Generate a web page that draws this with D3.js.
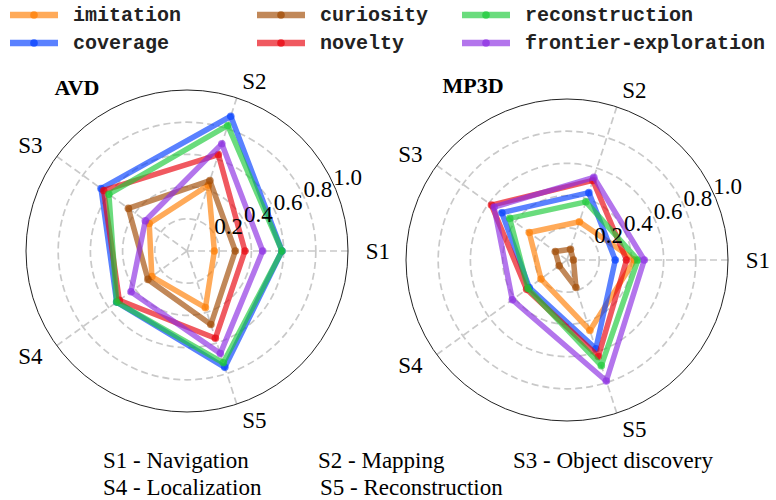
<!DOCTYPE html>
<html>
<head>
<meta charset="utf-8">
<script src="https://cdn.jsdelivr.net/npm/d3@7"></script>
<style>
  body { margin: 0; background: #fff; }
</style>
</head>
<body>
<script>
// data
var seriesNames = ["imitation", "coverage", "curiosity", "novelty", "reconstruction", "frontier-exploration"];
var seriesColors = ["#ff7c00", "#023eff", "#9f4800", "#e8000b", "#1ac938", "#8b2be2"];
var skills = ["S1", "S2", "S3", "S4", "S5"];
var rTicks = [0.2, 0.4, 0.6, 0.8, 1.0];
var skillNotes = ["S1 - Navigation", "S2 - Mapping", "S3 - Object discovery", "S4 - Localization", "S5 - Reconstruction"];

// one row per series, columns S1..S5
var avdValues = [
  [0.17, 0.43, 0.29, 0.27, 0.37],
  [0.59, 0.88, 0.66, 0.54, 0.76],
  [0.30, 0.46, 0.45, 0.30, 0.48],
  [0.36, 0.63, 0.64, 0.52, 0.57],
  [0.59, 0.82, 0.60, 0.54, 0.73],
  [0.47, 0.70, 0.32, 0.43, 0.67]
];
var mp3dValues = [
  [0.42, 0.25, 0.29, 0.20, 0.46],
  [0.30, 0.44, 0.50, 0.29, 0.58],
  [0.04, 0.07, 0.09, 0.06, 0.18],
  [0.37, 0.52, 0.58, 0.31, 0.63],
  [0.44, 0.38, 0.44, 0.30, 0.69],
  [0.48, 0.54, 0.56, 0.42, 0.79]
];

var svg = d3.select("body").append("svg")
  .attr("width", 776)
  .attr("height", 500);

svg.append("rect").attr("width", 776).attr("height", 500).attr("fill", "#fff");

var R = 161;
var r = d3.scaleLinear().domain([0, 1]).range([0, R]);
// math angle (ccw from east) for each skill
var angle = d3.scaleLinear().domain([0, skills.length]).range([0, 2 * Math.PI]);

function px(v, i) { return r(v) * Math.cos(angle(i)); }
function py(v, i) { return -r(v) * Math.sin(angle(i)); }

function drawRadar(cx, cy, title, titleX, titleY, values) {
  var g = svg.append("g").attr("transform", "translate(" + cx + "," + cy + ")");

  // rings
  g.selectAll(".ring")
    .data(rTicks.slice(0, -1))
    .enter()
    .append("circle")
    .attr("r", function (d) { return r(d); })
    .attr("fill", "none")
    .attr("stroke", "#c9c9c9")
    .attr("stroke-width", 1.7)
    .attr("stroke-dasharray", "7,4");

  // spokes
  g.selectAll(".spoke")
    .data(skills)
    .enter()
    .append("line")
    .attr("x1", 0).attr("y1", 0)
    .attr("x2", function (d, i) { return px(1, i); })
    .attr("y2", function (d, i) { return py(1, i); })
    .attr("stroke", "#c9c9c9")
    .attr("stroke-width", 1.7)
    .attr("stroke-dasharray", "7,4");

  // outer spine
  g.append("circle")
    .attr("r", r(1))
    .attr("fill", "none")
    .attr("stroke", "#222")
    .attr("stroke-width", 1);

  // series polygons
  var line = d3.lineRadial()
    .angle(function (d, i) { return Math.PI / 2 - angle(i); })
    .radius(function (d) { return r(d); })
    .curve(d3.curveLinearClosed);

  values.forEach(function (row, s) {
    g.append("path")
      .attr("d", line(row))
      .attr("fill", "none")
      .attr("stroke", seriesColors[s])
      .attr("stroke-width", 5.5)
      .attr("stroke-linejoin", "round")
      .attr("stroke-opacity", 0.65);
    g.selectAll(".pt" + s)
      .data(row)
      .enter()
      .append("circle")
      .attr("cx", function (d, i) { return px(d, i); })
      .attr("cy", function (d, i) { return py(d, i); })
      .attr("r", 3.8)
      .attr("fill", seriesColors[s])
      .attr("fill-opacity", 0.65);
  });

  // r tick labels along 22.5 deg, on top of the lines
  var la = 22.5 * Math.PI / 180;
  g.selectAll(".rtick")
    .data(rTicks)
    .enter()
    .append("text")
    .attr("x", function (d) { return r(d) * Math.cos(la) + 12; })
    .attr("y", function (d) { return -r(d) * Math.sin(la) - 12; })
    .attr("text-anchor", "middle")
    .attr("dominant-baseline", "central")
    .attr("font-family", "Liberation Serif, serif")
    .attr("font-size", 23)
    .attr("fill", "#000")
    .text(function (d) { return d.toFixed(1); });

  // skill labels, anchored at their inner side
  g.selectAll(".skill")
    .data(skills)
    .enter()
    .append("text")
    .attr("x", function (d, i) { return 1.11 * R * Math.cos(angle(i)); })
    .attr("y", function (d, i) { return -1.11 * R * Math.sin(angle(i)); })
    .attr("text-anchor", function (d, i) { return Math.cos(angle(i)) > 0 ? "start" : "end"; })
    .attr("dominant-baseline", "central")
    .attr("font-family", "Liberation Serif, serif")
    .attr("font-size", 23)
    .text(function (d) { return d; });

  svg.append("text")
    .attr("x", titleX)
    .attr("y", titleY)
    .attr("text-anchor", "middle")
    .attr("dominant-baseline", "central")
    .attr("font-family", "Liberation Serif, serif")
    .attr("font-weight", "bold")
    .attr("font-size", 22)
    .text(title);
}

drawRadar(187, 251, "AVD", 77, 87, avdValues);
drawRadar(567, 260, "MP3D", 473, 85, mp3dValues);

// legend, 3 columns filled top to bottom
var legendX = [10, 257, 462];
var legendY = [15, 43];
var legend = svg.selectAll(".leg")
  .data(seriesNames)
  .enter()
  .append("g")
  .attr("transform", function (d, i) {
    return "translate(" + legendX[Math.floor(i / 2)] + "," + legendY[i % 2] + ")";
  });
legend.append("line")
  .attr("x1", 0).attr("x2", 48)
  .attr("y1", 0).attr("y2", 0)
  .attr("stroke", function (d, i) { return seriesColors[i]; })
  .attr("stroke-width", 6.5)
  .attr("stroke-opacity", 0.65);
legend.append("circle")
  .attr("cx", 24).attr("cy", 0).attr("r", 3.8)
  .attr("fill", function (d, i) { return seriesColors[i]; })
  .attr("fill-opacity", 0.7);
legend.append("text")
  .attr("x", 63)
  .attr("y", 0)
  .attr("dominant-baseline", "central")
  .attr("font-family", "Liberation Mono, monospace")
  .attr("font-weight", "bold")
  .attr("font-size", 20)
  .attr("fill", "#222")
  .text(function (d) { return d; });

// skill notes at bottom
var noteX = [103, 318, 513, 103, 320];
var noteY = [460, 460, 460, 487, 487];
svg.selectAll(".note")
  .data(skillNotes)
  .enter()
  .append("text")
  .attr("x", function (d, i) { return noteX[i]; })
  .attr("y", function (d, i) { return noteY[i]; })
  .attr("dominant-baseline", "central")
  .attr("font-family", "Liberation Serif, serif")
  .attr("font-size", 23)
  .text(function (d) { return d; });
</script>
</body>
</html>
